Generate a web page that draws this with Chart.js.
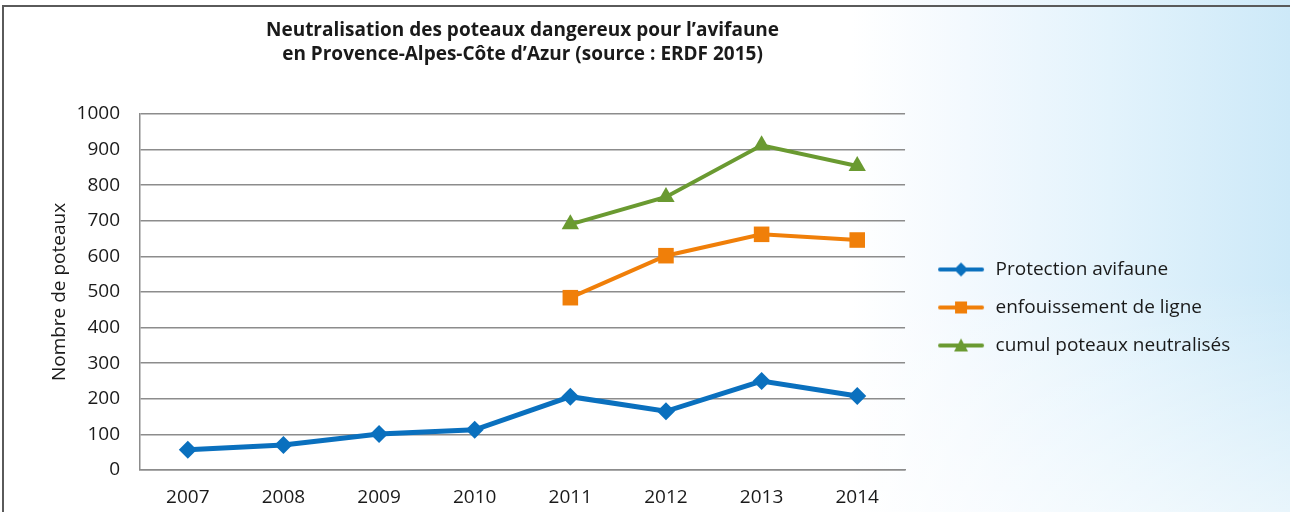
<!DOCTYPE html>
<html lang="fr">
<head>
<meta charset="utf-8">
<script src="https://cdn.jsdelivr.net/npm/chart.js@4.4.1/dist/chart.umd.min.js"></script>
<style>
  html, body { margin: 0; padding: 0; }
  body {
    width: 1290px; height: 512px; overflow: hidden; position: relative;
    background:
      linear-gradient(to bottom, rgba(255,255,255,0) 55%, rgba(255,255,255,0.55) 100%),
      linear-gradient(to right, #ffffff 0%, #ffffff 66%, #f3f9fe 75%, #e3f3fc 86%, #cde9f8 100%);
  }
  #frame {
    position: absolute; left: 2px; top: 5px; right: 0; bottom: 0;
    border-top: 2px solid #5a5a5a; border-left: 2px solid #5a5a5a;
  }
  #wrap { position: absolute; left: 0; top: 0; width: 1290px; height: 512px; }
</style>
</head>
<body>
<div id="frame"></div>
<div id="wrap"><canvas id="poteauxChart"></canvas></div>
<script>
const years = ['2007', '2008', '2009', '2010', '2011', '2012', '2013', '2014'];
const protectionAvifaune = [57, 70, 101, 113, 206, 165, 250, 208];
const enfouissementLigne = [null, null, null, null, 484, 602, 662, 646];
const cumulNeutralises = [null, null, null, null, 690, 767, 912, 854];
const yTicks = [0, 100, 200, 300, 400, 500, 600, 700, 800, 900, 1000];

const BLUE = '#0a70be';
const ORANGE = '#f07f09';
const GREEN = '#6a9a31';
const TEXT = '#1a1a1a';
const GRID = '#8c8c8c';

Chart.defaults.font.family = "'Open Sans', 'DejaVu Sans', sans-serif";

// little line+marker pictures for the legend (drawn a bit right of the image centre)
function legendSymbol(color, shape) {
    const c = document.createElement('canvas');
    c.width = 60;
    c.height = 20;
    const g = c.getContext('2d');
    g.strokeStyle = color;
    g.fillStyle = color;
    g.lineWidth = 4;
    g.lineCap = 'round';
    g.beginPath();
    g.moveTo(15, 10);
    g.lineTo(57, 10);
    g.stroke();
    g.beginPath();
    if (shape === 'diamond') {
        g.moveTo(36, 3); g.lineTo(43, 10); g.lineTo(36, 17); g.lineTo(29, 10);
    } else if (shape === 'square') {
        g.rect(30, 4, 12, 12);
    } else {
        g.moveTo(36, 3); g.lineTo(43, 16); g.lineTo(29, 16);
    }
    g.closePath();
    g.fill();
    return c;
}
const legendIcons = [
    legendSymbol(BLUE, 'diamond'),
    legendSymbol(ORANGE, 'square'),
    legendSymbol(GREEN, 'triangle')
];

const ctx = document.getElementById('poteauxChart').getContext('2d');
new Chart(ctx, {
    type: 'line',
    data: {
        labels: years,
        datasets: [{
            label: 'Protection avifaune',
            data: protectionAvifaune,
            borderColor: BLUE,
            backgroundColor: BLUE,
            borderWidth: 5,
            pointStyle: 'rectRot',
            pointRadius: 9,
            pointBorderWidth: 0,
            fill: false
        }, {
            label: 'enfouissement de ligne',
            data: enfouissementLigne,
            borderColor: ORANGE,
            backgroundColor: ORANGE,
            borderWidth: 4,
            pointStyle: 'rect',
            pointRadius: 11,
            pointBorderWidth: 0,
            fill: false
        }, {
            label: 'cumul poteaux neutralisés',
            data: cumulNeutralises,
            borderColor: GREEN,
            backgroundColor: GREEN,
            borderWidth: 4,
            pointStyle: 'triangle',
            pointRadius: 10,
            pointBorderWidth: 0,
            fill: false
        }]
    },
    options: {
        responsive: true,
        maintainAspectRatio: false,
        animation: false,
        layout: {
            padding: { left: 48, right: 49.7, top: 0, bottom: 0 }
        },
        elements: {
            line: { tension: 0 }
        },
        scales: {
            x: {
                offset: true,
                grid: { display: false, drawTicks: false },
                border: { display: true, color: GRID, width: 1.5 },
                ticks: {
                    color: TEXT,
                    font: { size: 19 },
                    padding: 16.5,
                    maxRotation: 0
                },
                afterFit: scale => { scale.height = 42; }
            },
            y: {
                min: 0,
                max: 1000,
                afterBuildTicks: axis => { axis.ticks = yTicks.map(v => ({ value: v })); },
                grid: { color: GRID, lineWidth: 1.5, drawTicks: false },
                border: { display: true, color: GRID, width: 1.5 },
                ticks: {
                    color: TEXT,
                    font: { size: 19 },
                    padding: 20,
                    callback: v => String(v)
                },
                title: {
                    display: true,
                    text: 'Nombre de poteaux',
                    color: TEXT,
                    font: { size: 19 },
                    padding: { top: 0, bottom: 0 }
                },
                afterFit: scale => { scale.width = 92; }
            }
        },
        plugins: {
            title: {
                display: true,
                fullSize: false,
                text: ['Neutralisation des poteaux dangereux pour l’avifaune',
                       'en Provence-Alpes-Côte d’Azur (source : ERDF 2015)'],
                color: TEXT,
                font: { size: 19, weight: 'bold', lineHeight: 1.263 },
                padding: { top: 19, bottom: 47 }
            },
            legend: {
                position: 'right',
                fullSize: false,
                align: 'center',
                maxWidth: 420,
                // empty title only nudges the items a little lower
                title: {
                    display: true,
                    text: '',
                    font: { size: 16, lineHeight: 1 },
                    padding: { top: 7.5, bottom: 7.5 }
                },
                labels: {
                    usePointStyle: true,
                    pointStyleWidth: 62,
                    padding: 19,
                    color: TEXT,
                    font: { size: 19 },
                    generateLabels: chart => chart.data.datasets.map((ds, i) => ({
                        text: ds.label,
                        pointStyle: legendIcons[i],
                        fillStyle: ds.borderColor,
                        strokeStyle: ds.borderColor,
                        lineWidth: 0,
                        hidden: false,
                        datasetIndex: i,
                        fontColor: TEXT
                    }))
                }
            },
            tooltip: { enabled: false }
        }
    }
});
</script>
</body>
</html>
